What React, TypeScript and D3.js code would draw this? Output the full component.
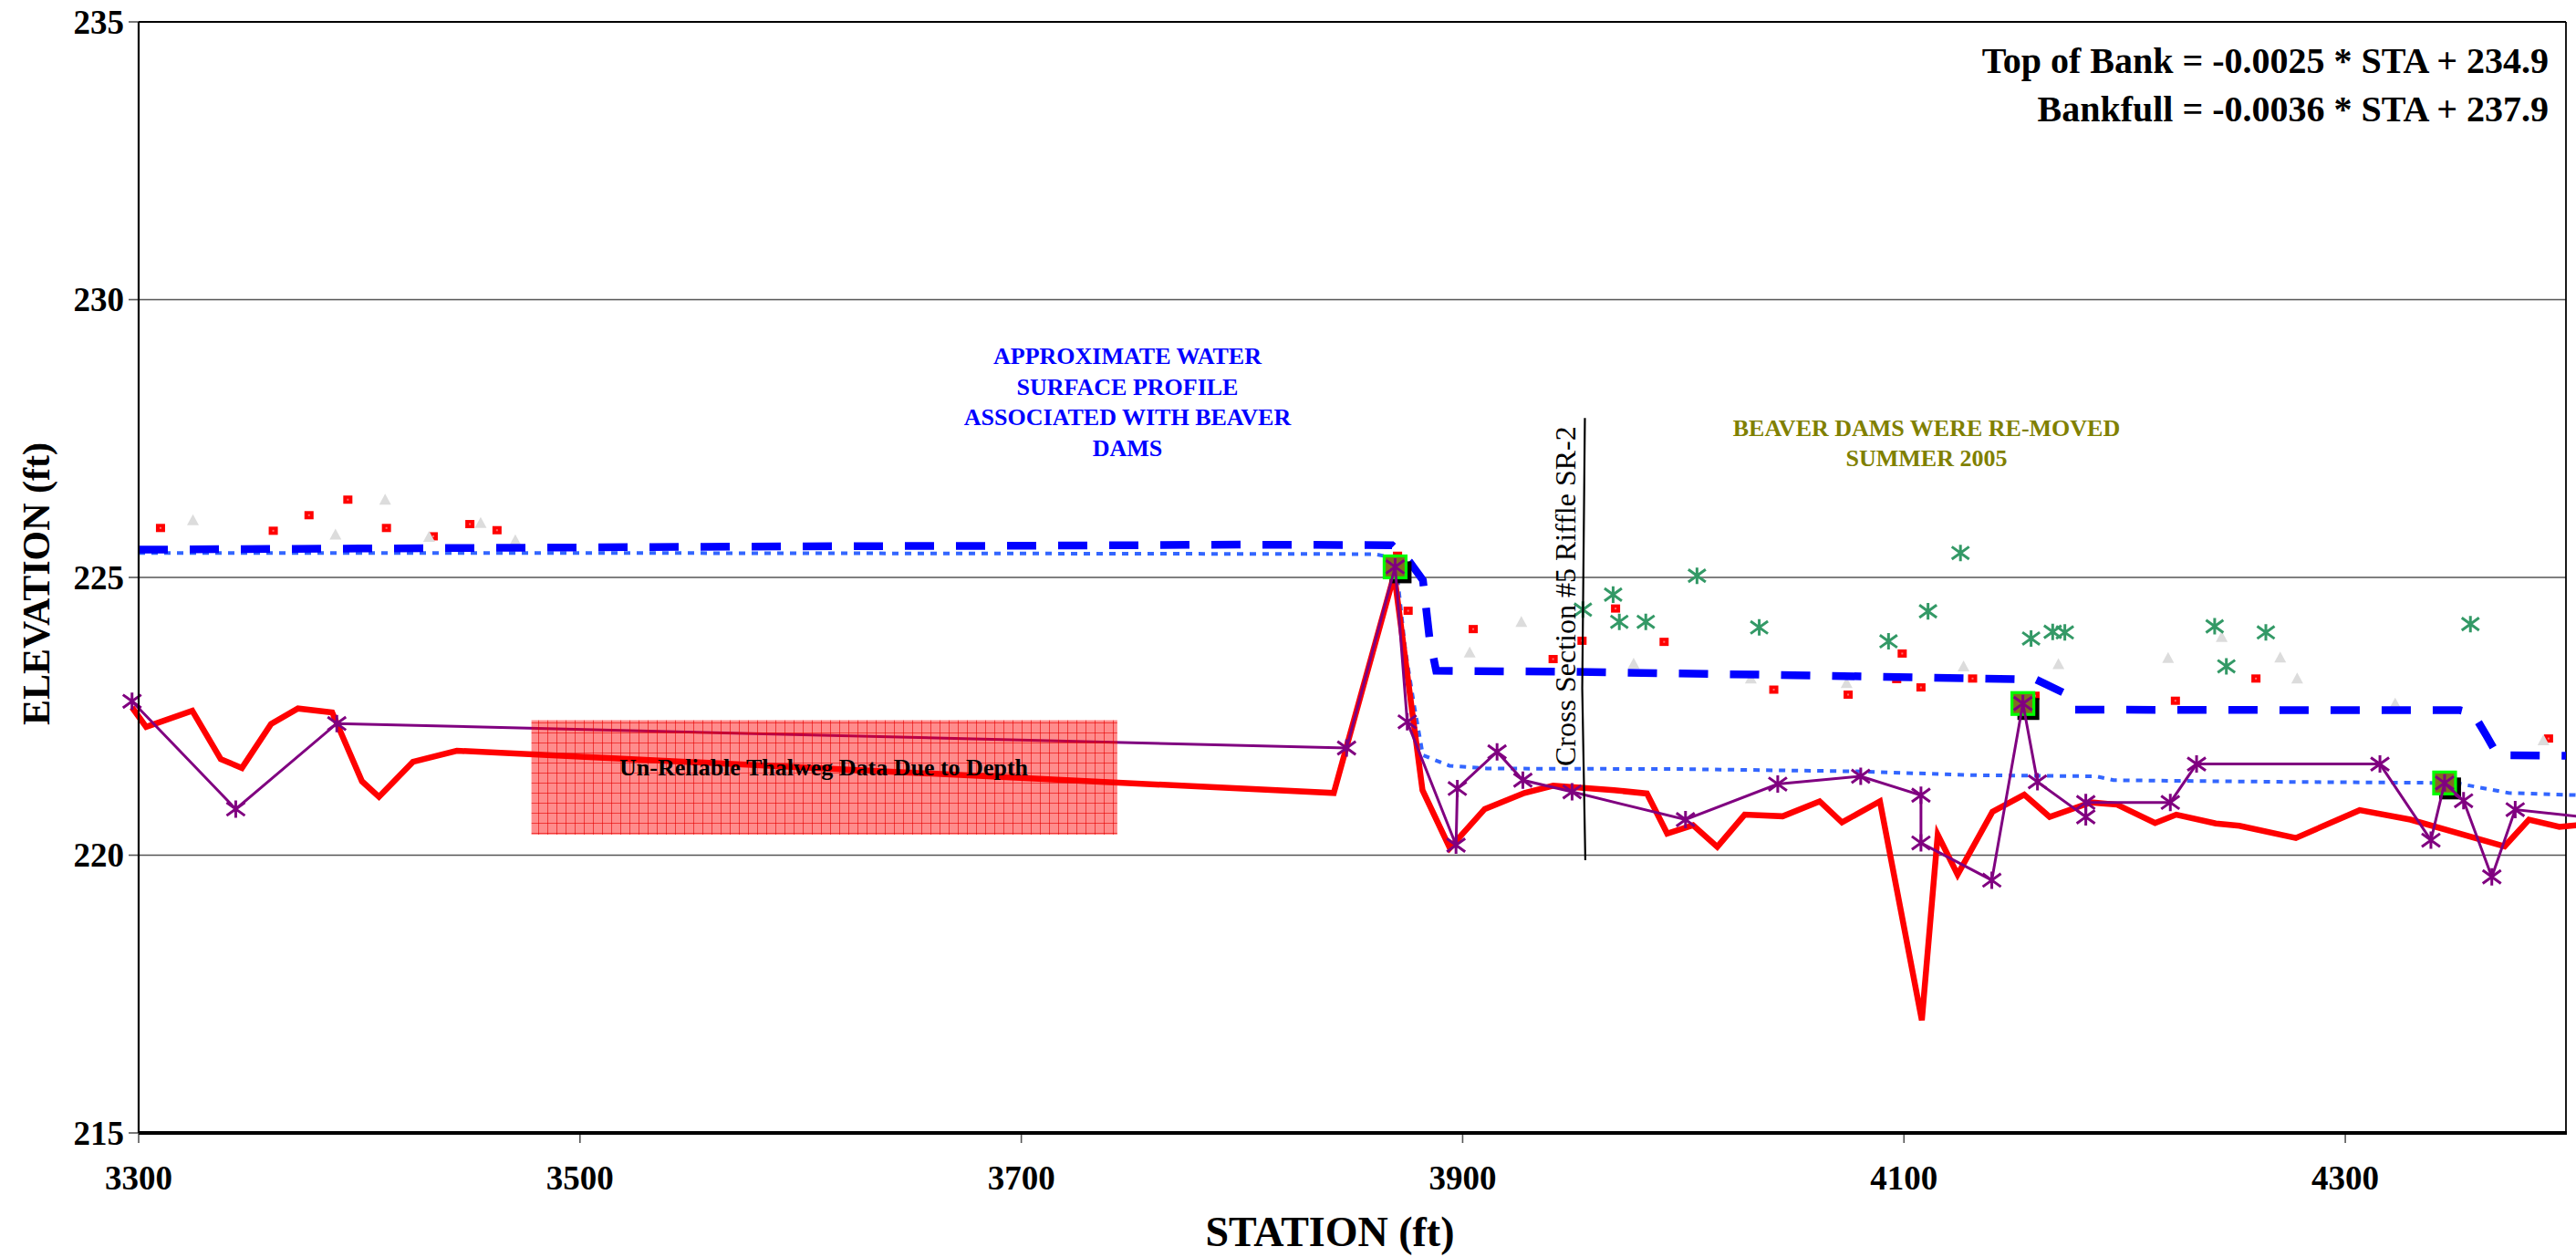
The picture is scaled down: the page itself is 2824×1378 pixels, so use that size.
import React from "react";
import * as d3 from "d3";

const W = 2824;
const H = 1378;

const X_DOMAIN: [number, number] = [3300, 4400];
const Y_DOMAIN: [number, number] = [215, 235];
const X_TICKS = [3300, 3500, 3700, 3900, 4100, 4300];
const Y_TICKS = [215, 220, 225, 230, 235];
const Y_GRID = [220, 225, 230];

// Thalweg (red thick line) [station, elevation]
const thalweg: [number, number][] = [
  [3297, 222.66], [3303.4, 222.31], [3324.3, 222.6], [3337.2, 221.73], [3346.8, 221.57],
  [3360, 222.36], [3372.2, 222.64], [3387.7, 222.57], [3401.2, 221.33], [3408.9, 221.05],
  [3424.3, 221.68], [3444.2, 221.88], [3841.6, 221.12], [3869, 225.05], [3881.8, 221.17],
  [3894.2, 220.13], [3910, 220.83], [3928, 221.12], [3941, 221.25], [3968.6, 221.17],
  [3983.5, 221.11], [3992.7, 220.39], [4004.4, 220.54], [4015.4, 220.15], [4027.8, 220.73],
  [4045, 220.7], [4061.8, 220.97], [4071.9, 220.59], [4089.1, 220.97], [4108.1, 217.03],
  [4115.3, 220.37], [4124.3, 219.65], [4140.1, 220.78], [4154.5, 221.09], [4166, 220.69],
  [4184.8, 220.95], [4196.6, 220.91], [4213.8, 220.58], [4223.4, 220.73], [4241.3, 220.57],
  [4252, 220.53], [4277.6, 220.31], [4306.5, 220.81], [4329.5, 220.64], [4372.2, 220.16],
  [4383.2, 220.64], [4397, 220.51], [4405, 220.54],
];

// Second thalweg survey (purple with asterisks)
const thalweg2: [number, number][] = [
  [3297, 222.77], [3344, 220.83], [3389.8, 222.37], [3847.4, 221.93], [3869.4, 225.19],
  [3874.9, 222.4], [3897, 220.18], [3897.6, 221.2], [3915.6, 221.86], [3927.3, 221.35],
  [3949.6, 221.14], [4001, 220.64], [4042.8, 221.28], [4080.4, 221.42], [4107.7, 221.08],
  [4107.7, 220.22], [4139.8, 219.55], [4153.9, 222.73], [4160.5, 221.32], [4182.4, 220.69],
  [4182.4, 220.95], [4220.7, 220.95], [4232.6, 221.64], [4315.7, 221.64], [4338.8, 220.27],
  [4345, 221.3], [4353.6, 220.98], [4366.4, 219.61], [4377, 220.82], [4412, 220.67],
];

// Approximate water surface with beaver dams (thick blue dashed)
const waterSurface: [number, number][] = [
  [3300, 225.5], [3400, 225.52], [3500, 225.54], [3600, 225.56], [3700, 225.57],
  [3800, 225.59], [3868, 225.58], [3876, 225.28], [3882, 224.95], [3885, 223.9],
  [3888, 223.32], [3950, 223.3], [4050, 223.24], [4150, 223.17], [4160, 223.16],
  [4172, 222.93], [4177, 222.62], [4300, 222.61], [4352, 222.61], [4358, 222.55],
  [4364, 222.15], [4369, 221.8], [4400, 221.79],
];

// Water surface (thin blue dotted)
const waterSurface2: [number, number][] = [
  [3300, 225.44], [3500, 225.44], [3700, 225.43], [3860, 225.42], [3869, 225.35],
  [3871, 224.8], [3874, 223.7], [3878, 222.7], [3882, 221.8], [3894, 221.61],
  [3911, 221.56], [4000, 221.55], [4077, 221.51], [4132, 221.44], [4187, 221.42],
  [4195, 221.35], [4270, 221.32], [4350, 221.3], [4374, 221.12], [4406, 221.08],
];

// Bankfull points (red squares)
const bankfull: [number, number][] = [
  [3309.9, 225.89], [3361, 225.84], [3377.2, 226.12], [3394.8, 226.4], [3412.3, 225.89],
  [3433.5, 225.74], [3450.1, 225.96], [3462.4, 225.85], [3870.5, 225.39], [3875.3, 224.4],
  [3904.8, 224.07], [3941, 223.53], [3954.1, 223.86], [3969.3, 224.44], [3991.3, 223.84],
  [4041, 222.98], [4074.7, 222.89], [4096.7, 223.17], [4099.2, 223.63], [4107.7, 223.02],
  [4131.1, 223.18], [4159.4, 222.87], [4223, 222.78], [4259.5, 223.18], [4392.1, 222.1],
];

// Left top of bank (light gray triangles)
const bankLeft: [number, number][] = [
  [3324.6, 226.03], [3389.2, 225.77], [3411.7, 226.4], [3431.6, 225.73], [3455, 225.98],
  [3470.7, 225.67], [3903.2, 223.65], [3926.6, 224.2], [3977.5, 223.45], [4030.6, 223.18],
  [4074, 223.1], [4127, 223.4], [4170, 223.44], [4219.7, 223.55], [4244, 223.93],
  [4270.5, 223.56], [4278.2, 223.18], [4322.6, 222.73], [4389.8, 222.07],
];

// Top of bank (green asterisks)
const topOfBank: [number, number][] = [
  [3954.5, 224.42], [3968.2, 224.69], [3971, 224.2], [3983, 224.2], [4006.2, 225.03],
  [4034.4, 224.1], [4093, 223.85], [4110.9, 224.39], [4125.6, 225.44], [4157.6, 223.9],
  [4167.4, 224.02], [4172.9, 224.01], [4240.8, 224.12], [4246.1, 223.4], [4264, 224.01],
  [4356.7, 224.16],
];

// Riffle cross sections (green-edged squares)
const riffles: [number, number][] = [
  [3869.4, 225.19], [4153.9, 222.73], [4345, 221.3],
];

// Cross section #5 marker line
const xsLine: [number, number][] = [
  [3955.4, 227.87], [3954.2, 223.0], [3955.6, 219.91],
];

// Unreliable data box [sta0, sta1, elev0, elev1]
const unreliableBox = [3478, 3743.5, 220.37, 222.43];

const EQUATIONS = [
  "Top of Bank = -0.0025 * STA + 234.9",
  "Bankfull = -0.0036 * STA + 237.9",
];
const BLUE_NOTE = ["APPROXIMATE WATER", "SURFACE PROFILE", "ASSOCIATED WITH BEAVER", "DAMS"];
const OLIVE_NOTE = ["BEAVER DAMS WERE RE-MOVED", "SUMMER 2005"];

const FONT = "'Liberation Serif', 'Times New Roman', Times, serif";

function asterisk(cx: number, cy: number, r: number) {
  const v = r * 0.95;
  const dy = r * 0.72;
  return `M${cx},${cy - v}L${cx},${cy + v}M${cx - r},${cy - dy}L${cx + r},${cy + dy}M${cx - r},${cy + dy}L${cx + r},${cy - dy}`;
}

export default function App() {
  const x = d3.scaleLinear().domain(X_DOMAIN).range([152, 2813]);
  const y = d3.scaleLinear().domain(Y_DOMAIN).range([1242, 24]);
  const line = d3
    .line<[number, number]>()
    .x((d) => x(d[0]))
    .y((d) => y(d[1]));

  const [bx0, bx1, by0, by1] = unreliableBox;

  return (
    <svg
      width={W}
      height={H}
      viewBox={`0 0 ${W} ${H}`}
      style={{ position: "absolute", left: 0, top: 0, background: "#fff" }}
      fontFamily={FONT}
    >
      <defs>
        <pattern id="gridHatch" width="10" height="11" patternUnits="userSpaceOnUse">
          <rect width="10" height="11" fill="rgba(255,0,0,0.45)" />
          <path d="M0,0.5H10M0.5,0V11" stroke="rgba(230,0,0,0.6)" strokeWidth="1" fill="none" />
        </pattern>
      </defs>
      <rect x={0} y={0} width={W} height={H} fill="#fff" />

      {/* gridlines */}
      {Y_GRID.map((v) => (
        <line key={v} x1={x(X_DOMAIN[0])} x2={x(X_DOMAIN[1])} y1={y(v)} y2={y(v)} stroke="#555" strokeWidth={1.6} />
      ))}
      {/* plot border */}
      <line x1={x(X_DOMAIN[0])} x2={x(X_DOMAIN[1])} y1={y(235)} y2={y(235)} stroke="#000" strokeWidth={1.8} />
      <line x1={x(X_DOMAIN[1])} x2={x(X_DOMAIN[1])} y1={y(235)} y2={y(215)} stroke="#000" strokeWidth={1.8} />

      {/* y ticks */}
      {Y_TICKS.map((v) => (
        <g key={v}>
          <line x1={141} x2={152} y1={y(v)} y2={y(v)} stroke="#555" strokeWidth={1.6} />
          <text x={136} y={y(v) + 12.5} textAnchor="end" fontSize={37} fontWeight="bold">
            {v}
          </text>
        </g>
      ))}
      {/* x ticks */}
      {X_TICKS.map((v) => (
        <g key={v}>
          <line x1={x(v)} x2={x(v)} y1={y(215)} y2={y(215) + 11} stroke="#555" strokeWidth={1.6} />
          <text x={x(v)} y={1304} textAnchor="middle" fontSize={37} fontWeight="bold">
            {v}
          </text>
        </g>
      ))}

      {/* bankfull red squares */}
      {bankfull.map((d, i) => (
        <g key={"bf" + i}>
          <rect x={x(d[0]) - 5} y={y(d[1]) - 4.5} width={10} height={9} fill="#ff0000" />
          <rect x={x(d[0]) - 1} y={y(d[1]) - 1} width={2} height={2} fill="#ff7070" />
        </g>
      ))}
      {/* gray triangles */}
      {bankLeft.map((d, i) => {
        const cx = x(d[0]);
        const cy = y(d[1]);
        return <path key={"bl" + i} d={`M${cx},${cy - 6.5}L${cx + 6.5},${cy + 5.5}L${cx - 6.5},${cy + 5.5}Z`} fill="#dcdcdc" />;
      })}

      {/* water surfaces */}
      <path d={line(waterSurface2) || ""} fill="none" stroke="#3366ff" strokeWidth={4} strokeDasharray="7 7" />
      <path d={line(waterSurface) || ""} fill="none" stroke="#0000ff" strokeWidth={8.5} strokeDasharray="32 24" />

      {/* thalweg */}
      <path d={line(thalweg) || ""} fill="none" stroke="#ff0000" strokeWidth={6.5} strokeLinejoin="miter" />

      {/* top of bank asterisks */}
      {topOfBank.map((d, i) => (
        <path key={"tb" + i} d={asterisk(x(d[0]), y(d[1]), 9.5)} stroke="#339966" strokeWidth={3} fill="none" />
      ))}

      {/* riffle squares */}
      {riffles.map((d, i) => (
        <rect key={"rb" + i} x={x(d[0]) - 12 + 6} y={y(d[1]) - 12 + 6} width={24} height={24} fill="#000" />
      ))}
      {riffles.map((d, i) => (
        <rect key={"rg" + i} x={x(d[0]) - 12} y={y(d[1]) - 12} width={24} height={24} fill="#7f6f1f" stroke="#00ff00" strokeWidth={3.2} />
      ))}

      {/* purple survey */}
      <path d={line(thalweg2) || ""} fill="none" stroke="#800080" strokeWidth={3} />
      {thalweg2.map((d, i) => (
        <path key={"pm" + i} d={asterisk(x(d[0]), y(d[1]), 10)} stroke="#800080" strokeWidth={3} fill="none" />
      ))}

      {/* unreliable box */}
      <rect x={x(bx0)} y={y(by1)} width={x(bx1) - x(bx0)} height={y(by0) - y(by1)} fill="url(#gridHatch)" />
      <text x={903} y={850} textAnchor="middle" fontSize={26} fontWeight="bold" fill="#000">
        Un-Reliable Thalweg Data Due to Depth
      </text>

      {/* cross section line */}
      <path d={line(xsLine) || ""} fill="none" stroke="#000" strokeWidth={2.2} />
      <text transform="translate(1727,840) rotate(-90)" fontSize={32} fill="#000">
        Cross Section #5 Riffle SR-2
      </text>

      {/* notes */}
      {BLUE_NOTE.map((t, i) => (
        <text key={t} x={1236} y={399 + i * 33.7} textAnchor="middle" fontSize={26} fontWeight="bold" fill="#0000ff">
          {t}
        </text>
      ))}
      {OLIVE_NOTE.map((t, i) => (
        <text key={t} x={2112} y={478 + i * 33} textAnchor="middle" fontSize={26} fontWeight="bold" fill="#808000">
          {t}
        </text>
      ))}
      {EQUATIONS.map((t, i) => (
        <text key={t} x={2794} y={80 + i * 53} textAnchor="end" fontSize={40} fontWeight="bold" fill="#000">
          {t}
        </text>
      ))}

      {/* axes */}
      <line x1={152} x2={152} y1={y(235)} y2={y(215)} stroke="#000" strokeWidth={2.2} />
      <line x1={152} x2={x(X_DOMAIN[1]) + 1} y1={y(215)} y2={y(215)} stroke="#000" strokeWidth={4} />

      {/* axis titles */}
      <text transform="translate(54,640) rotate(-90)" textAnchor="middle" fontSize={42} fontWeight="bold">
        ELEVATION (ft)
      </text>
      <text x={1458} y={1366} textAnchor="middle" fontSize={46} fontWeight="bold">
        STATION (ft)
      </text>
    </svg>
  );
}
